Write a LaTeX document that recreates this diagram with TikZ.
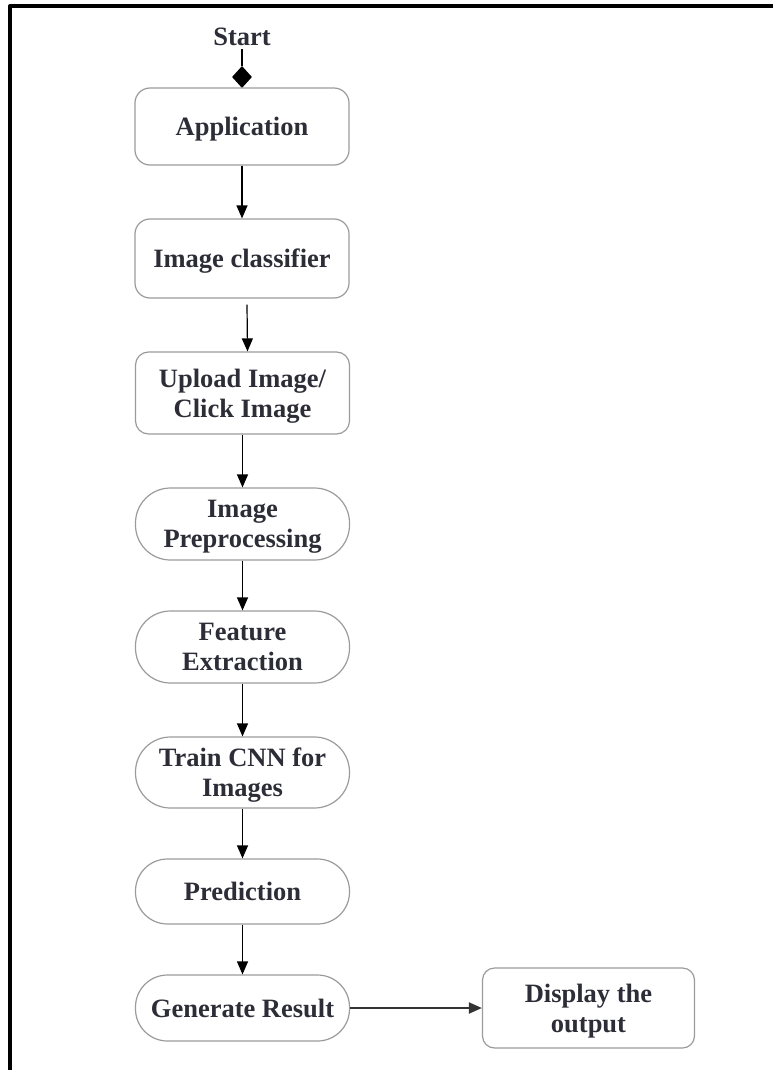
\documentclass[tikz,border=0pt]{standalone}
\usepackage{fontspec}
\setmainfont{Liberation Serif}
\usetikzlibrary{arrows.meta,shapes.geometric}
\definecolor{boxgray}{RGB}{155,155,155}
\definecolor{inkgray}{RGB}{45,45,55}
\begin{document}
\begin{tikzpicture}[x=1pt,y=-1pt,line join=round,>={Triangle[length=13pt,width=11pt]},
		every node/.style={font=\fontsize{26.5}{30}\selectfont\bfseries,text=inkgray,align=center,text depth=0pt},
		box/.style={draw=boxgray,line width=1.2pt,rounded corners=15pt,minimum width=214pt,inner sep=0pt},
		term/.style={box,rounded corners=32pt},
		flow/.style={->,line width=1.2pt}]
				\useasboundingbox (0,0) rectangle (773,1070);
				% frame
				\draw[line width=4pt] (10,1070)--(10,6)--(773,6);
				\node (start) at (242,37) {Start};
				\node[diamond,fill=black,inner sep=0pt,minimum width=20pt,minimum height=22pt] (dia) at (242,77) {};
				\node[box,minimum height=77pt] (app) at (242,126.5) {Application};
				\node[box,minimum height=79pt] (cls) at (242,258.5) {Image classifier};
				\node[box,rounded corners=13pt,minimum height=82pt] (upl) at (242.5,393) {Upload Image/\\Click Image};
				\node[term,minimum height=72pt,rounded corners=35pt] (pre) at (242.5,524) {Image\\Preprocessing};
				\node[term,minimum height=72pt,rounded corners=35pt] (fea) at (242.5,647) {Feature\\Extraction};
				\node[term,minimum height=71pt,rounded corners=35pt] (trn) at (242.5,772.5) {Train CNN for\\Images};
				\node[term,minimum height=65pt] (prd) at (242.5,891.5) {Prediction};
				\node[term,minimum height=66pt] (gen) at (242.5,1008) {Generate Result};
				\node[box,rounded corners=12pt,minimum width=212pt,minimum height=80pt] (dsp) at (588.5,1008) {Display the\\output};
				\draw[line width=1.2pt] (start.south)--(dia.north);
				\draw[flow] (app)--(cls);
				\draw[flow] ([xshift=5pt,yshift=-6pt]cls.south)--([xshift=5pt]upl.north);
				\draw[flow] (upl)--(pre);
				\draw[flow] (pre)--(fea);
				\draw[flow] (fea)--(trn);
				\draw[flow] (trn)--(prd);
				\draw[flow] (prd)--(gen);
				\draw[flow,line width=2pt,draw=black!80] (gen)--(dsp);
\end{tikzpicture}
\end{document}
